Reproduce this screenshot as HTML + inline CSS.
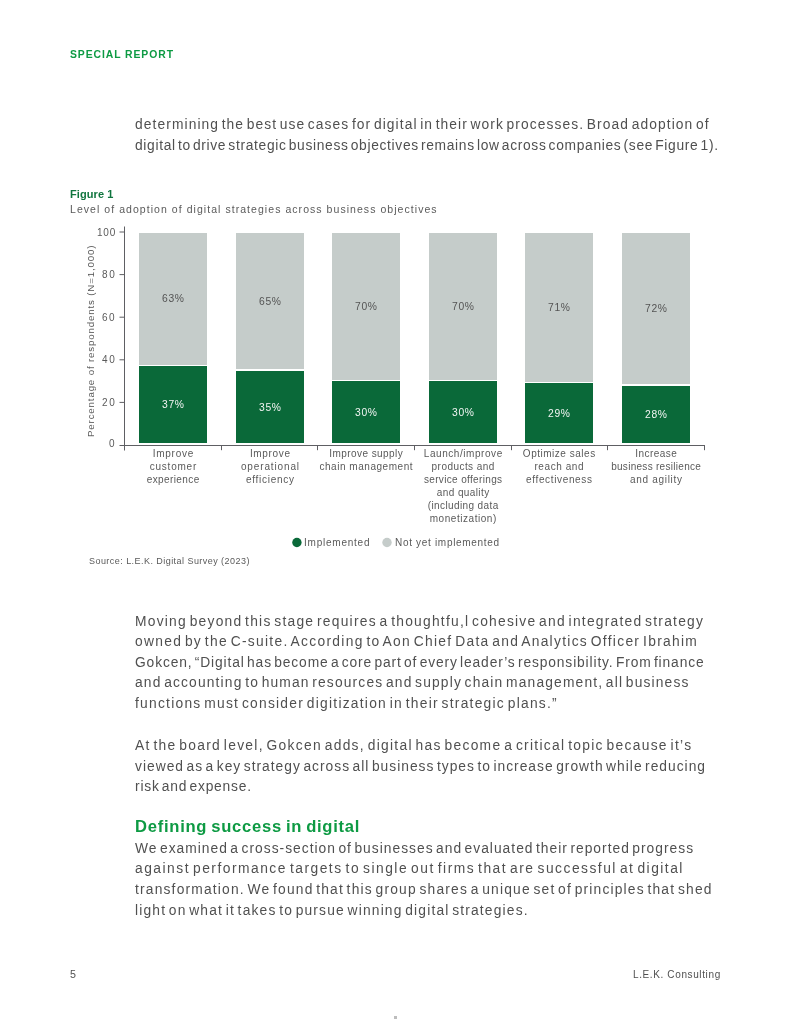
<!DOCTYPE html>
<html><head><meta charset="utf-8"><style>
html,body{margin:0;padding:0;background:#fff;}
body{width:791px;height:1024px;position:relative;overflow:hidden;font-family:"Liberation Sans",sans-serif;}
.t{position:absolute;white-space:nowrap;line-height:1;will-change:transform;}
.b{position:absolute;}
</style></head><body>

<div class="b" style="left:139.0px;top:233.0px;width:68px;height:131.6px;background:#c5ccca"></div>
<div class="b" style="left:139.0px;top:366.4px;width:68px;height:76.8px;background:#0a6939"></div>
<div class="b" style="left:235.6px;top:233.0px;width:68px;height:136.0px;background:#c5ccca"></div>
<div class="b" style="left:235.6px;top:370.8px;width:68px;height:72.4px;background:#0a6939"></div>
<div class="b" style="left:332.2px;top:233.0px;width:68px;height:146.5px;background:#c5ccca"></div>
<div class="b" style="left:332.2px;top:381.3px;width:68px;height:61.9px;background:#0a6939"></div>
<div class="b" style="left:428.8px;top:233.0px;width:68px;height:146.5px;background:#c5ccca"></div>
<div class="b" style="left:428.8px;top:381.3px;width:68px;height:61.9px;background:#0a6939"></div>
<div class="b" style="left:525.4px;top:233.0px;width:68px;height:148.5px;background:#c5ccca"></div>
<div class="b" style="left:525.4px;top:383.3px;width:68px;height:59.9px;background:#0a6939"></div>
<div class="b" style="left:622.0px;top:233.0px;width:68px;height:150.7px;background:#c5ccca"></div>
<div class="b" style="left:622.0px;top:385.5px;width:68px;height:57.7px;background:#0a6939"></div>
<svg class="b" style="left:0;top:0" width="791" height="1024" viewBox="0 0 791 1024">
<line x1="124.5" y1="226.5" x2="124.5" y2="450.5" stroke="#5e5f63" stroke-width="1"/>
<line x1="119.5" y1="445.5" x2="704.8" y2="445.5" stroke="#5e5f63" stroke-width="1"/>
<line x1="119.5" y1="402.4" x2="124.5" y2="402.4" stroke="#5e5f63" stroke-width="1"/>
<line x1="119.5" y1="359.8" x2="124.5" y2="359.8" stroke="#5e5f63" stroke-width="1"/>
<line x1="119.5" y1="317.2" x2="124.5" y2="317.2" stroke="#5e5f63" stroke-width="1"/>
<line x1="119.5" y1="274.6" x2="124.5" y2="274.6" stroke="#5e5f63" stroke-width="1"/>
<line x1="119.5" y1="232.0" x2="124.5" y2="232.0" stroke="#5e5f63" stroke-width="1"/>
<line x1="221.5" y1="445" x2="221.5" y2="450.2" stroke="#5e5f63" stroke-width="1"/>
<line x1="317.5" y1="445" x2="317.5" y2="450.2" stroke="#5e5f63" stroke-width="1"/>
<line x1="414.5" y1="445" x2="414.5" y2="450.2" stroke="#5e5f63" stroke-width="1"/>
<line x1="511.5" y1="445" x2="511.5" y2="450.2" stroke="#5e5f63" stroke-width="1"/>
<line x1="607.5" y1="445" x2="607.5" y2="450.2" stroke="#5e5f63" stroke-width="1"/>
<line x1="704.5" y1="445" x2="704.5" y2="450.2" stroke="#5e5f63" stroke-width="1"/>
<circle cx="296.9" cy="542.5" r="4.7" fill="#0a6939"/>
<circle cx="387" cy="542.5" r="4.7" fill="#c5ccca"/>
<rect x="394" y="1016" width="3" height="3" fill="#bdbdbd"/>
</svg>
<div class="t" id="ytitle" style="left:86.3px;top:437.0px;font-size:9.7px;color:#5a5a5a;transform-origin:0 0;transform:rotate(-90deg);letter-spacing:0.8564928928483851px">Percentage of respondents (N=1,000)</div>
<div class="t" id="t0" style="left:70.00px;top:49.60px;font-size:10.40px;font-weight:700;color:#0d9a43;letter-spacing:0.920px;">SPECIAL REPORT</div>
<div class="t" id="t1" style="left:135.00px;top:118.02px;font-size:13.80px;font-weight:400;color:#505050;letter-spacing:1.092px;word-spacing:-0.170em;">determining the best use cases for digital in their work processes. Broad adoption of</div>
<div class="t" id="t2" style="left:135.00px;top:138.72px;font-size:13.80px;font-weight:400;color:#505050;letter-spacing:0.673px;word-spacing:-0.170em;">digital to drive strategic business objectives remains low across companies (see Figure 1).</div>
<div class="t" id="t3" style="left:70.00px;top:189.39px;font-size:11.00px;font-weight:700;color:#10753e;letter-spacing:0.100px;">Figure 1</div>
<div class="t" id="t4" style="left:69.60px;top:203.81px;font-size:10.50px;font-weight:400;color:#5a5a5a;letter-spacing:1.051px;">Level of adoption of digital strategies across business objectives</div>
<div class="t" id="t5" style="left:135.30px;top:614.62px;font-size:13.80px;font-weight:400;color:#505050;letter-spacing:1.243px;word-spacing:-0.170em;">Moving beyond this stage requires a thoughtfu,l cohesive and integrated strategy</div>
<div class="t" id="t6" style="left:135.30px;top:635.22px;font-size:13.80px;font-weight:400;color:#505050;letter-spacing:1.294px;word-spacing:-0.170em;">owned by the C-suite. According to Aon Chief Data and Analytics Officer Ibrahim</div>
<div class="t" id="t7" style="left:135.30px;top:655.82px;font-size:13.80px;font-weight:400;color:#505050;letter-spacing:0.868px;word-spacing:-0.170em;">Gokcen, “Digital has become a core part of every leader’s responsibility. From finance</div>
<div class="t" id="t8" style="left:135.30px;top:676.42px;font-size:13.80px;font-weight:400;color:#505050;letter-spacing:1.162px;word-spacing:-0.170em;">and accounting to human resources and supply chain management, all business</div>
<div class="t" id="t9" style="left:135.30px;top:697.02px;font-size:13.80px;font-weight:400;color:#505050;letter-spacing:1.253px;word-spacing:-0.170em;">functions must consider digitization in their strategic plans.”</div>
<div class="t" id="t10" style="left:135.30px;top:739.02px;font-size:13.80px;font-weight:400;color:#505050;letter-spacing:1.296px;word-spacing:-0.170em;">At the board level, Gokcen adds, digital has become a critical topic because it’s</div>
<div class="t" id="t11" style="left:135.30px;top:759.62px;font-size:13.80px;font-weight:400;color:#505050;letter-spacing:1.008px;word-spacing:-0.170em;">viewed as a key strategy across all business types to increase growth while reducing</div>
<div class="t" id="t12" style="left:135.30px;top:780.22px;font-size:13.80px;font-weight:400;color:#505050;letter-spacing:0.784px;word-spacing:-0.170em;">risk and expense.</div>
<div class="t" id="t13" style="left:135.00px;top:819.45px;font-size:16.60px;font-weight:700;color:#0d9a43;letter-spacing:0.733px;word-spacing:-0.080em;">Defining success in digital</div>
<div class="t" id="t14" style="left:135.30px;top:841.72px;font-size:13.80px;font-weight:400;color:#505050;letter-spacing:1.009px;word-spacing:-0.170em;">We examined a cross-section of businesses and evaluated their reported progress</div>
<div class="t" id="t15" style="left:135.30px;top:862.32px;font-size:13.80px;font-weight:400;color:#505050;letter-spacing:1.499px;word-spacing:-0.170em;">against performance targets to single out firms that are successful at digital</div>
<div class="t" id="t16" style="left:135.30px;top:882.92px;font-size:13.80px;font-weight:400;color:#505050;letter-spacing:1.189px;word-spacing:-0.170em;">transformation. We found that this group shares a unique set of principles that shed</div>
<div class="t" id="t17" style="left:135.30px;top:903.52px;font-size:13.80px;font-weight:400;color:#505050;letter-spacing:1.175px;word-spacing:-0.170em;">light on what it takes to pursue winning digital strategies.</div>
<div class="t" id="t18" style="left:70.00px;top:969.14px;font-size:10.70px;font-weight:400;color:#505050;letter-spacing:0.000px;">5</div>
<div class="t" id="t19" style="right:70.60px;margin-right:-0.621px;top:969.74px;font-size:10.00px;font-weight:400;color:#505050;letter-spacing:0.621px;">L.E.K. Consulting</div>
<div class="t" id="t20" style="left:89.10px;top:556.98px;font-size:9.00px;font-weight:400;color:#5a5a5a;letter-spacing:0.452px;">Source: L.E.K. Digital Survey (2023)</div>
<div class="t" id="t21" style="left:303.80px;top:538.03px;font-size:10.00px;font-weight:400;color:#5a5a5a;letter-spacing:0.768px;">Implemented</div>
<div class="t" id="t22" style="left:394.60px;top:538.03px;font-size:10.00px;font-weight:400;color:#5a5a5a;letter-spacing:0.688px;">Not yet implemented</div>
<div class="t" id="t23" style="right:676.10px;margin-right:0.000px;top:438.74px;font-size:10.00px;font-weight:400;color:#5a5a5a;letter-spacing:0.000px;">0</div>
<div class="t" id="t24" style="right:676.10px;margin-right:-1.672px;top:398.04px;font-size:10.00px;font-weight:400;color:#5a5a5a;letter-spacing:1.672px;">20</div>
<div class="t" id="t25" style="right:676.10px;margin-right:-1.766px;top:355.44px;font-size:10.00px;font-weight:400;color:#5a5a5a;letter-spacing:1.766px;">40</div>
<div class="t" id="t26" style="right:676.10px;margin-right:-1.562px;top:312.84px;font-size:10.00px;font-weight:400;color:#5a5a5a;letter-spacing:1.562px;">60</div>
<div class="t" id="t27" style="right:676.10px;margin-right:-1.766px;top:270.24px;font-size:10.00px;font-weight:400;color:#5a5a5a;letter-spacing:1.766px;">80</div>
<div class="t" id="t28" style="right:676.10px;margin-right:-0.756px;top:227.63px;font-size:10.00px;font-weight:400;color:#5a5a5a;letter-spacing:0.756px;">100</div>
<div class="t" id="t29" style="left:173.00px;transform:translateX(-50%);padding-left:0.712px;top:448.84px;font-size:10.00px;font-weight:400;color:#5a5a5a;letter-spacing:0.712px;">Improve</div>
<div class="t" id="t30" style="left:173.00px;transform:translateX(-50%);padding-left:0.766px;top:461.84px;font-size:10.00px;font-weight:400;color:#5a5a5a;letter-spacing:0.766px;">customer</div>
<div class="t" id="t31" style="left:173.00px;transform:translateX(-50%);padding-left:0.387px;top:474.84px;font-size:10.00px;font-weight:400;color:#5a5a5a;letter-spacing:0.387px;">experience</div>
<div class="t" id="t32" style="left:269.60px;transform:translateX(-50%);padding-left:0.678px;top:448.84px;font-size:10.00px;font-weight:400;color:#5a5a5a;letter-spacing:0.678px;">Improve</div>
<div class="t" id="t33" style="left:269.60px;transform:translateX(-50%);padding-left:0.860px;top:461.84px;font-size:10.00px;font-weight:400;color:#5a5a5a;letter-spacing:0.860px;">operational</div>
<div class="t" id="t34" style="left:269.60px;transform:translateX(-50%);padding-left:0.722px;top:474.84px;font-size:10.00px;font-weight:400;color:#5a5a5a;letter-spacing:0.722px;">efficiency</div>
<div class="t" id="t35" style="left:366.20px;transform:translateX(-50%);padding-left:0.431px;top:448.84px;font-size:10.00px;font-weight:400;color:#5a5a5a;letter-spacing:0.431px;">Improve supply</div>
<div class="t" id="t36" style="left:366.20px;transform:translateX(-50%);padding-left:0.542px;top:461.84px;font-size:10.00px;font-weight:400;color:#5a5a5a;letter-spacing:0.542px;">chain management</div>
<div class="t" id="t37" style="left:462.80px;transform:translateX(-50%);padding-left:0.565px;top:448.84px;font-size:10.00px;font-weight:400;color:#5a5a5a;letter-spacing:0.565px;">Launch/improve</div>
<div class="t" id="t38" style="left:462.80px;transform:translateX(-50%);padding-left:0.452px;top:461.84px;font-size:10.00px;font-weight:400;color:#5a5a5a;letter-spacing:0.452px;">products and</div>
<div class="t" id="t39" style="left:462.80px;transform:translateX(-50%);padding-left:0.348px;top:474.84px;font-size:10.00px;font-weight:400;color:#5a5a5a;letter-spacing:0.348px;">service offerings</div>
<div class="t" id="t40" style="left:462.80px;transform:translateX(-50%);padding-left:0.392px;top:487.84px;font-size:10.00px;font-weight:400;color:#5a5a5a;letter-spacing:0.392px;">and quality</div>
<div class="t" id="t41" style="left:462.80px;transform:translateX(-50%);padding-left:0.389px;top:500.84px;font-size:10.00px;font-weight:400;color:#5a5a5a;letter-spacing:0.389px;">(including data</div>
<div class="t" id="t42" style="left:462.80px;transform:translateX(-50%);padding-left:0.539px;top:513.83px;font-size:10.00px;font-weight:400;color:#5a5a5a;letter-spacing:0.539px;">monetization)</div>
<div class="t" id="t43" style="left:559.40px;transform:translateX(-50%);padding-left:0.517px;top:448.84px;font-size:10.00px;font-weight:400;color:#5a5a5a;letter-spacing:0.517px;">Optimize sales</div>
<div class="t" id="t44" style="left:559.40px;transform:translateX(-50%);padding-left:0.577px;top:461.84px;font-size:10.00px;font-weight:400;color:#5a5a5a;letter-spacing:0.577px;">reach and</div>
<div class="t" id="t45" style="left:559.40px;transform:translateX(-50%);padding-left:0.642px;top:474.84px;font-size:10.00px;font-weight:400;color:#5a5a5a;letter-spacing:0.642px;">effectiveness</div>
<div class="t" id="t46" style="left:656.00px;transform:translateX(-50%);padding-left:0.435px;top:448.84px;font-size:10.00px;font-weight:400;color:#5a5a5a;letter-spacing:0.435px;">Increase</div>
<div class="t" id="t47" style="left:656.00px;transform:translateX(-50%);padding-left:0.289px;top:461.84px;font-size:10.00px;font-weight:400;color:#5a5a5a;letter-spacing:0.289px;">business resilience</div>
<div class="t" id="t48" style="left:656.00px;transform:translateX(-50%);padding-left:0.696px;top:474.84px;font-size:10.00px;font-weight:400;color:#5a5a5a;letter-spacing:0.696px;">and agility</div>
<div class="t" id="t49" style="left:173.00px;transform:translateX(-50%);padding-left:0.687px;top:294.43px;font-size:10.30px;font-weight:400;color:#545454;letter-spacing:0.687px;">63%</div>
<div class="t" id="t50" style="left:173.00px;transform:translateX(-50%);padding-left:0.687px;top:400.43px;font-size:10.30px;font-weight:400;color:#f2f5f3;letter-spacing:0.687px;">37%</div>
<div class="t" id="t51" style="left:269.60px;transform:translateX(-50%);padding-left:0.687px;top:296.63px;font-size:10.30px;font-weight:400;color:#545454;letter-spacing:0.687px;">65%</div>
<div class="t" id="t52" style="left:269.60px;transform:translateX(-50%);padding-left:0.687px;top:402.63px;font-size:10.30px;font-weight:400;color:#f2f5f3;letter-spacing:0.687px;">35%</div>
<div class="t" id="t53" style="left:366.20px;transform:translateX(-50%);padding-left:0.687px;top:301.88px;font-size:10.30px;font-weight:400;color:#545454;letter-spacing:0.687px;">70%</div>
<div class="t" id="t54" style="left:366.20px;transform:translateX(-50%);padding-left:0.687px;top:407.88px;font-size:10.30px;font-weight:400;color:#f2f5f3;letter-spacing:0.687px;">30%</div>
<div class="t" id="t55" style="left:462.80px;transform:translateX(-50%);padding-left:0.687px;top:301.88px;font-size:10.30px;font-weight:400;color:#545454;letter-spacing:0.687px;">70%</div>
<div class="t" id="t56" style="left:462.80px;transform:translateX(-50%);padding-left:0.687px;top:407.88px;font-size:10.30px;font-weight:400;color:#f2f5f3;letter-spacing:0.687px;">30%</div>
<div class="t" id="t57" style="left:559.40px;transform:translateX(-50%);padding-left:0.687px;top:302.88px;font-size:10.30px;font-weight:400;color:#545454;letter-spacing:0.687px;">71%</div>
<div class="t" id="t58" style="left:559.40px;transform:translateX(-50%);padding-left:0.687px;top:408.88px;font-size:10.30px;font-weight:400;color:#f2f5f3;letter-spacing:0.687px;">29%</div>
<div class="t" id="t59" style="left:656.00px;transform:translateX(-50%);padding-left:0.687px;top:303.98px;font-size:10.30px;font-weight:400;color:#545454;letter-spacing:0.687px;">72%</div>
<div class="t" id="t60" style="left:656.00px;transform:translateX(-50%);padding-left:0.687px;top:409.98px;font-size:10.30px;font-weight:400;color:#f2f5f3;letter-spacing:0.687px;">28%</div>
</body></html>
